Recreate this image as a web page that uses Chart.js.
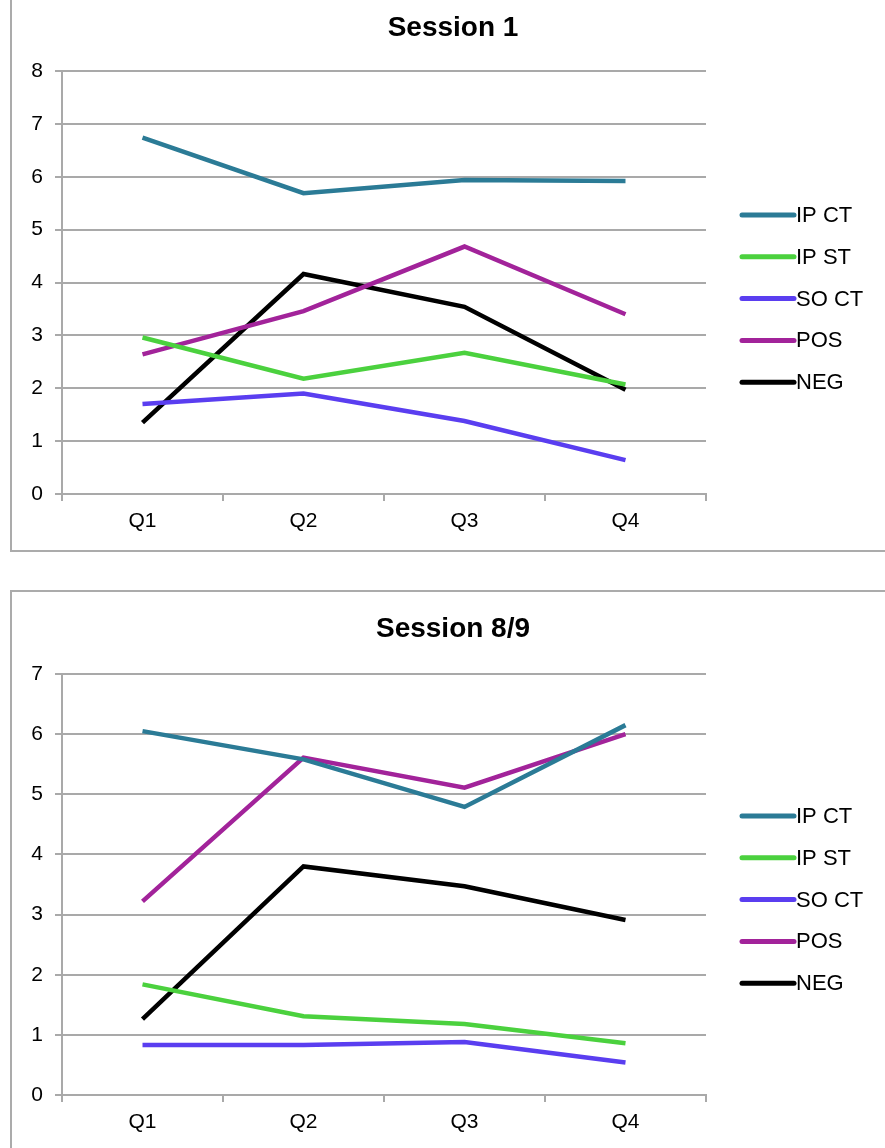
<!DOCTYPE html>
<html>
<head>
<meta charset="utf-8">
<script src="https://cdn.jsdelivr.net/npm/chart.js@4.4.1/dist/chart.umd.min.js"></script>
<style>
  html, body { margin: 0; padding: 0; background: #fff; width: 885px; height: 1148px; overflow: hidden; }
  .box { position: absolute; border: 2px solid #ababab; box-sizing: border-box; }
  canvas { position: absolute; }
</style>
</head>
<body>
<div class="box" style="left:10px; top:-4px; width:900px; height:556px;"></div>
<div class="box" style="left:10px; top:590px; width:900px; height:600px;"></div>
<canvas id="c1" width="873" height="551" style="left:12px; top:0px;"></canvas>
<canvas id="c2" width="873" height="555" style="left:12px; top:593px;"></canvas>
<script>
// ---- data ----
const categories = ["Q1", "Q2", "Q3", "Q4"];
const seriesNames = ["IP CT", "IP ST", "SO CT", "POS", "NEG"];

const s1_IPCT = [6.74, 5.69, 5.94, 5.92];
const s1_IPST = [2.96, 2.18, 2.67, 2.07];
const s1_SOCT = [1.70, 1.90, 1.38, 0.64];
const s1_POS  = [2.64, 3.46, 4.68, 3.40];
const s1_NEG  = [1.35, 4.16, 3.54, 1.97];

const s2_IPCT = [6.05, 5.58, 4.79, 6.15];
const s2_IPST = [1.84, 1.31, 1.18, 0.86];
const s2_SOCT = [0.83, 0.83, 0.88, 0.54];
const s2_POS  = [3.22, 5.61, 5.11, 6.00];
const s2_NEG  = [1.26, 3.80, 3.47, 2.91];

const title1 = "Session 1";
const title2 = "Session 8/9";
const yMax1 = 8;
const yMax2 = 7;

// ---- styles ----
const colors = ["#2b7b96", "#4bd13e", "#5a3ef0", "#a2239a", "#000000"];
const gridColor = "#a9a9a9";
const fontFamily = "'Liberation Sans', Arial, sans-serif";

const decorPlugin = {
  id: 'decor',
  afterDraw(chart, args, opts) {
    const ctx = chart.ctx;
    ctx.save();
    // title
    ctx.font = "bold 28px " + fontFamily;
    ctx.fillStyle = "#000";
    ctx.textAlign = "center";
    ctx.textBaseline = "middle";
    ctx.fillText(opts.title, opts.titleX, opts.titleY);
    // legend
    ctx.font = "22px " + fontFamily;
    ctx.textAlign = "left";
    chart.data.datasets.forEach((ds, i) => {
      const y = opts.top + i * opts.step;
      ctx.strokeStyle = ds.borderColor;
      ctx.lineWidth = 5;
      ctx.lineCap = "round";
      ctx.beginPath();
      ctx.moveTo(opts.x0, y);
      ctx.lineTo(opts.x1, y);
      ctx.stroke();
      ctx.fillStyle = "#000";
      ctx.fillText(ds.label, opts.x1 + 2, y + 1);
    });
    ctx.restore();
  }
};

function makeChart(id, title, data, yMax, cfg) {
  const datasets = seriesNames.map((name, i) => ({
    label: name,
    data: data[i],
    borderColor: colors[i],
    backgroundColor: colors[i],
    borderWidth: 4.5,
    pointRadius: 0,
    tension: 0,
    fill: false
  }));
  return new Chart(document.getElementById(id), {
    type: 'line',
    data: { labels: categories, datasets },
    plugins: [decorPlugin],
    options: {
      responsive: false,
      animation: false,
      layout: { padding: { left: 0, right: cfg.padRight, top: cfg.padTop, bottom: 0 } },
      plugins: {
        legend: { display: false },
        tooltip: { enabled: false },
        title: { display: false },
        decor: { title: title, titleX: 441, titleY: cfg.titleY, x0: 730, x1: 782, top: cfg.legendTop, step: 41.8 }
      },
      scales: {
        x: {
          offset: true,
          grid: { display: true, drawOnChartArea: false, drawTicks: true, tickLength: 7, offset: true, color: gridColor, lineWidth: 2 },
          border: { display: true, color: gridColor, width: 2 },
          ticks: { color: "#000", font: { family: fontFamily, size: 21 }, padding: 8, maxRotation: 0 },
          afterFit(scale) { scale.height = cfg.xHeight; }
        },
        y: {
          min: 0,
          max: yMax,
          ticks: { stepSize: 1, color: "#000", font: { family: fontFamily, size: 21 }, padding: 12 },
          grid: { color: gridColor, lineWidth: 2, tickLength: 7 },
          border: { display: true, color: gridColor, width: 2 },
          afterFit(scale) { scale.width = 50; }
        }
      }
    }
  });
}

makeChart('c1', title1, [s1_IPCT, s1_IPST, s1_SOCT, s1_POS, s1_NEG], yMax1,
  { padRight: 179, padTop: 71, titleY: 28, xHeight: 57, legendTop: 215 });
makeChart('c2', title2, [s2_IPCT, s2_IPST, s2_SOCT, s2_POS, s2_NEG], yMax2,
  { padRight: 179, padTop: 81, titleY: 36, xHeight: 53, legendTop: 223 });
</script>
</body>
</html>
